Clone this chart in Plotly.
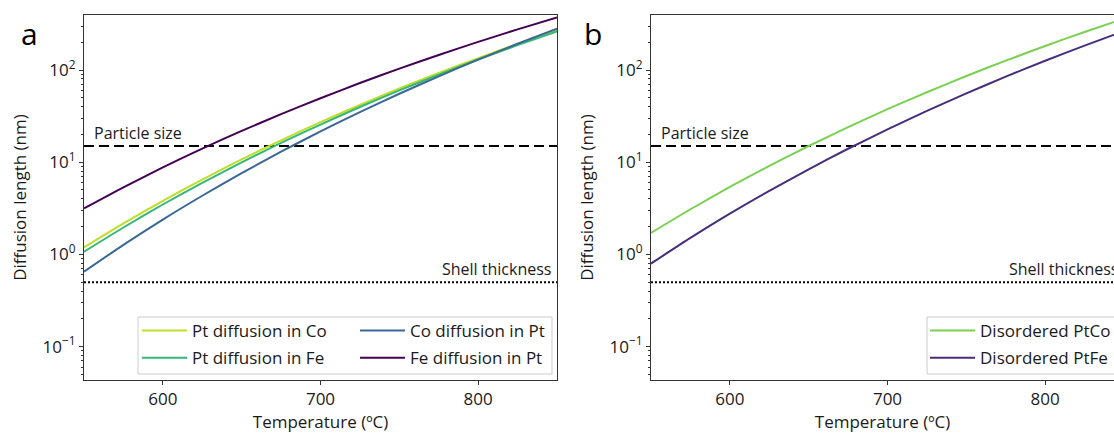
import math
import plotly.graph_objects as go

# ---------------- data ----------------
temperature_c = [550, 575, 600, 625, 650, 675, 700, 725, 750, 775, 800, 825, 850]

# panel a: diffusion length (nm)
pt_in_co = [1.19, 2.17, 3.82, 6.49, 10.75, 17.3, 27.2, 41.8, 63.0, 92.9, 134.6, 191.9, 269.0]
pt_in_fe = [1.07, 1.96, 3.48, 5.98, 9.97, 16.2, 25.6, 39.7, 60.1, 89.2, 130.0, 186.5, 263.0]
co_in_pt = [0.65, 1.27, 2.39, 4.33, 7.62, 13.0, 21.6, 35.0, 55.3, 85.5, 129.6, 192.8, 281.8]
fe_in_pt = [3.16, 5.35, 8.79, 14.04, 21.9, 33.2, 49.5, 72.3, 103.5, 145.8, 202.0, 276.0, 372.0]

# panel b: diffusion length (nm)
disordered_ptco = [1.71, 3.09, 5.39, 9.12, 15.0, 24.0, 37.6, 57.4, 86.1, 126.4, 182.4, 258.9, 361.7]
disordered_ptfe = [0.796, 1.51, 2.77, 4.89, 8.39, 14.0, 22.7, 36.0, 55.8, 84.7, 126.1, 184.3, 264.9]

particle_size = 15.0      # nm
shell_thickness = 0.5     # nm
ref_x = [550, 850]

x_tickvals = [600, 700, 800]
y_tickvals = [0.1, 1, 10, 100]
y_ticktext = ["10<sup>−1</sup>", "10<sup>0</sup>", "10<sup>1</sup>", "10<sup>2</sup>"]
y_minor = [m * 10.0 ** e for e in range(-2, 3) for m in range(2, 10)]

# ---------------- styling ----------------
W, H = 1114, 436
FONT = "Open Sans"
TXT = "#1a1a1a"
AX = "#333333"

c_ptco = "#bddf26"
c_ptfe = "#35b779"
c_copt = "#3a6896"
c_fept = "#440154"
c_dis_co = "#7ad151"
c_dis_fe = "#472d7b"

fig = go.Figure()

def curve(x, y, name, color, xa, ya, legend):
    fig.add_trace(go.Scatter(x=x, y=y, name=name, mode="lines", legendgroup=name,
                             line=dict(color=color, width=2, shape="spline", smoothing=0.6),
                             xaxis=xa, yaxis=ya, legend=legend))

def ref_line(y, dash, xa, ya):
    fig.add_trace(go.Scatter(x=ref_x, y=[y, y], mode="lines", showlegend=False,
                             line=dict(color="black", width=2, dash=dash),
                             xaxis=xa, yaxis=ya, hoverinfo="skip"))

# panel a
ref_line(particle_size, "10px,5px", "x", "y")
ref_line(shell_thickness, "2px,2px", "x", "y")
curve(temperature_c, pt_in_co, "Pt diffusion in Co", c_ptco, "x", "y", "legend")
curve(temperature_c, pt_in_fe, "Pt diffusion in Fe", c_ptfe, "x", "y", "legend")
curve(temperature_c, co_in_pt, "Co diffusion in Pt", c_copt, "x", "y", "legend2")
curve(temperature_c, fe_in_pt, "Fe diffusion in Pt", c_fept, "x", "y", "legend2")

# panel b
ref_line(particle_size, "10px,5px", "x2", "y2")
ref_line(shell_thickness, "2px,2px", "x2", "y2")
curve(temperature_c, disordered_ptco, "Disordered PtCo", c_dis_co, "x2", "y2", "legend3")
curve(temperature_c, disordered_ptfe, "Disordered PtFe", c_dis_fe, "x2", "y2", "legend3")

# axis geometry (pixels)
a_l, a_r = 84, 557
b_l = 651
px_per_deg = (a_r - a_l) / 300.0
b_xmax = 550 + (W - b_l) / px_per_deg
top, bot = 15, 380
ylog_range = [-1.362, 2.597]

common_x = dict(showline=True, linecolor=AX, linewidth=1, mirror=True, ticks="outside",
                ticklen=4, tickwidth=1, tickcolor=AX, tickvals=x_tickvals,
                showgrid=False, zeroline=False,
                tickfont=dict(family=FONT, size=17, color=TXT),
                title=dict(text="Temperature (ºC)", font=dict(family=FONT, size=17, color=TXT),
                           standoff=6))
common_y = dict(type="log", range=ylog_range, showline=True, linecolor=AX, linewidth=1,
                ticks="outside", ticklen=4, tickwidth=1, tickcolor=AX,
                tickvals=y_tickvals, ticktext=y_ticktext, showgrid=False, zeroline=False,
                tickfont=dict(family=FONT, size=17, color=TXT),
                minor=dict(tickvals=y_minor, ticks="outside", ticklen=2.5, tickwidth=0.8,
                           tickcolor=AX, showgrid=False),
                title=dict(text="Diffusion length (nm)", font=dict(family=FONT, size=17, color=TXT),
                           standoff=11))

ydom = [1 - bot / H, 1 - top / H]
fig.update_layout(
    xaxis=dict(common_x, domain=[a_l / W, a_r / W], range=[550, 850], anchor="y"),
    yaxis=dict(common_y, domain=ydom, anchor="x", mirror=True),
    xaxis2=dict(common_x, domain=[b_l / W, 1.0], range=[550, b_xmax], anchor="y2"),
    yaxis2=dict(common_y, domain=ydom, anchor="x2", mirror=False),
)

legfont = dict(family=FONT, size=17, color=TXT)
leg_common = dict(xanchor="left", yanchor="top", bgcolor="rgba(0,0,0,0)", borderwidth=0,
                  font=legfont, itemwidth=45, traceorder="grouped", tracegroupgap=2)
fig.update_layout(
    legend=dict(leg_common, x=137 / W, y=1 - 313 / H),
    legend2=dict(leg_common, x=355 / W, y=1 - 313 / H),
    legend3=dict(leg_common, x=925 / W, y=1 - 313 / H),
)

# legend frames
fig.add_shape(type="rect", xref="paper", yref="paper",
              x0=138 / W, x1=552 / W, y0=1 - 374 / H, y1=1 - 317 / H,
              line=dict(color="#cccccc", width=1), fillcolor="rgba(255,255,255,0.85)",
              layer="above")
fig.add_shape(type="rect", xref="paper", yref="paper",
              x0=927 / W, x1=1119 / W, y0=1 - 374 / H, y1=1 - 317 / H,
              line=dict(color="#cccccc", width=1), fillcolor="rgba(255,255,255,0.85)",
              layer="above")

annfont = dict(family=FONT, size=16, color=TXT)
ly_ps = math.log10(particle_size)
ly_st = math.log10(shell_thickness)
anns = [
    dict(x=92 / W, xref="paper", y=ly_ps, yref="y", text="Particle size",
         xanchor="left", yanchor="bottom", yshift=0, showarrow=False, font=annfont),
    dict(x=553 / W, xref="paper", y=ly_st, yref="y", text="Shell thickness",
         xanchor="right", yanchor="bottom", yshift=0, showarrow=False, font=annfont),
    dict(x=659 / W, xref="paper", y=ly_ps, yref="y2", text="Particle size",
         xanchor="left", yanchor="bottom", yshift=0, showarrow=False, font=annfont),
    dict(x=1120 / W, xref="paper", y=ly_st, yref="y2", text="Shell thickness",
         xanchor="right", yanchor="bottom", yshift=0, showarrow=False, font=annfont),
    dict(x=29 / W, xref="paper", y=1 - 33 / H, yref="paper", text="a",
         xanchor="center", yanchor="middle", showarrow=False,
         font=dict(family=FONT, size=30, color="black")),
    dict(x=593 / W, xref="paper", y=1 - 33 / H, yref="paper", text="b",
         xanchor="center", yanchor="middle", showarrow=False,
         font=dict(family=FONT, size=30, color="black")),
]
fig.update_layout(annotations=anns)

fig.update_layout(width=W, height=H, autosize=False,
                  margin=dict(l=0, r=0, t=0, b=0, pad=0, autoexpand=False),
                  paper_bgcolor="white", plot_bgcolor="white",
                  font=dict(family=FONT, color=TXT))

fig.write_html("out.html", config={"displayModeBar": False},
               post_script="document.body.style.margin='0';")
